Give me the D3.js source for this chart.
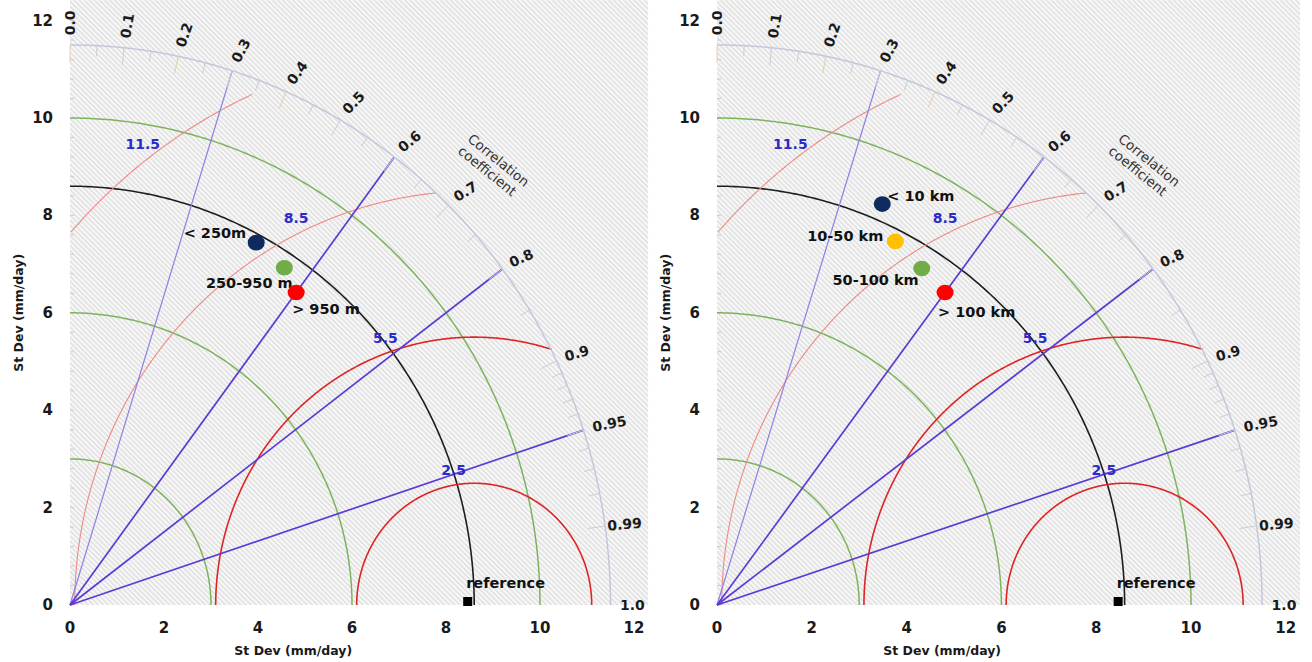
<!DOCTYPE html>
<html>
<head>
<meta charset="utf-8">
<script src="https://cdn.jsdelivr.net/npm/d3@7"></script>
<style>
  body { margin: 0; background: #fff; }
  svg { display: block; }
  text { font-family: "DejaVu Sans", sans-serif; }
</style>
</head>
<body>
<svg id="chart" width="1312" height="662"></svg>
<script>
// Taylor diagrams of daily precipitation: (a) by elevation class, (b) by distance class
const elevClasses = ["< 250m", "250-950 m", "> 950 m"];
const elevStd = [8.43, 8.29, 8.02];
const elevCorr = [0.47, 0.55, 0.60];
const elevColors = ["#0e2a5e", "#70ad47", "#ff0000"];

const distClasses = ["< 10 km", "10-50 km", "50-100 km", "> 100 km"];
const distStd = [8.94, 8.36, 8.15, 8.02];
const distCorr = [0.39, 0.45, 0.53, 0.60];
const distColors = ["#0e2a5e", "#ffc000", "#70ad47", "#ff0000"];

const refStd = 8.6;                 // observed standard deviation (mm/day)
const maxStd = 11.5;                // radius of the correlation axis
const stdTicks = [0, 2, 4, 6, 8, 10, 12];
const stdArcs = [3, 6, 10];         // constant standard deviation
const rmsArcs = [2.5, 5.5, 8.5, 11.5]; // centred RMS difference
const corrLines = [0.3, 0.6, 0.8, 0.95];
const corrTicks = [0.0, 0.1, 0.2, 0.3, 0.4, 0.5, 0.6, 0.7, 0.8, 0.9, 0.95, 0.99, 1.0];
const corrMinor = [0.05, 0.15, 0.25, 0.35, 0.45, 0.55, 0.65, 0.75, 0.85, 0.91, 0.92, 0.93, 0.94, 0.96, 0.97, 0.98];

// label placement for the class markers: [anchor, dx, dy] in px
const elevLabelPos = [["end", -10, -10], ["middle", -35, 15], ["start", -4, 16]];
const distLabelPos = [["start", 5, -8], ["end", -12, -5], ["end", -3, 12], ["start", -7, 19]];
// angle (deg, measured at the reference point) where each RMS value is written
const rmsLabelAngle = [99, 109, 115.5, 126.7];

const svg = d3.select("#chart");
const defs = svg.append("defs");
const pat = defs.append("pattern")
  .attr("id", "hatch").attr("patternUnits", "userSpaceOnUse")
  .attr("width", 3.6).attr("height", 3.6)
  .attr("patternTransform", "rotate(-45)");
pat.append("rect").attr("width", 3.6).attr("height", 3.6).attr("fill", "#f8f8f8");
pat.append("line").attr("x1", 1.8).attr("y1", 0).attr("x2", 1.8).attr("y2", 3.6)
  .attr("stroke", "#d6d6d6").attr("stroke-width", 1.1);

const Y0 = 605, PY = 48.7;

function polar(r, c) { return [r * c, r * Math.sqrt(Math.max(0, 1 - c * c))]; }

function drawPanel(ox, px, names, stds, corrs, colors, labelPos) {
  const x = d3.scaleLinear().domain([0, 12]).range([ox, ox + 12 * px]);
  const y = d3.scaleLinear().domain([0, 12]).range([Y0, Y0 - 12 * PY]);
  const line = d3.line().x(d => x(d[0])).y(d => y(d[1]));
  const g = svg.append("g");

  // hatched plotting area
  g.append("rect")
    .attr("x", x(0)).attr("y", y(12.42))
    .attr("width", x(12.3) - x(0)).attr("height", y(0) - y(12.42))
    .attr("fill", "url(#hatch)");

  // faint marks along the std axis
  g.selectAll(".ym").data(d3.range(0, 12.01, 0.4)).join("line")
    .attr("x1", x(0)).attr("x2", x(0) + 4)
    .attr("y1", d => y(d)).attr("y2", d => y(d))
    .attr("stroke", "#cccccc").attr("stroke-width", 1);

  // std dev arcs
  stdArcs.forEach(r => {
    const pts = d3.range(0, 90.01, 0.5).map(a => [r * Math.cos(a * Math.PI / 180), r * Math.sin(a * Math.PI / 180)]);
    g.append("path").attr("d", line(pts)).attr("fill", "none")
      .attr("stroke", "#7cb45c").attr("stroke-width", 1.5);
  });

  // reference std arc
  {
    const pts = d3.range(0, 90.01, 0.5).map(a => [refStd * Math.cos(a * Math.PI / 180), refStd * Math.sin(a * Math.PI / 180)]);
    g.append("path").attr("d", line(pts)).attr("fill", "none")
      .attr("stroke", "#1e1e1e").attr("stroke-width", 1.6);
  }

  // centred RMS arcs around the reference point
  rmsArcs.forEach((R, i) => {
    const limit = R >= maxStd ? maxStd - 0.3 : maxStd + 0.02;
    const pts = d3.range(0, 180.01, 0.25)
      .map(a => [refStd + R * Math.cos(a * Math.PI / 180), R * Math.sin(a * Math.PI / 180)])
      .filter(p => p[0] >= 0 && Math.hypot(p[0], p[1]) <= limit);
    const strong = R < 6;
    g.append("path").attr("d", line(pts)).attr("fill", "none")
      .attr("stroke", strong ? "#e02424" : "#ee8a86")
      .attr("stroke-width", strong ? 1.6 : 1.1);
  });

  // correlation rays
  corrLines.forEach(c => {
    const p = polar(maxStd, c);
    const light = c < 0.5;
    g.append("path").attr("d", line([[0, 0], p])).attr("fill", "none")
      .attr("stroke", light ? "#8f80e4" : "#5b3bd4")
      .attr("stroke-width", light ? 1.2 : 1.7);
  });

  // correlation axis
  {
    const pts = d3.range(0, 90.01, 0.25).map(a => [maxStd * Math.cos(a * Math.PI / 180), maxStd * Math.sin(a * Math.PI / 180)]);
    g.append("path").attr("d", line(pts)).attr("fill", "none")
      .attr("stroke", "#c4c7da").attr("stroke-width", 1.5);
  }
  const tickTan = [0.0, 0.2, 0.4];
  corrTicks.filter(c => c < 1).forEach(c => {
    const a = polar(maxStd, c), b = polar(maxStd - 0.36, c);
    g.append("path").attr("d", line([a, b]))
      .attr("stroke", tickTan.includes(c) ? "#e8cfa4" : "#cdcdd6").attr("stroke-width", 1);
  });
  corrMinor.forEach(c => {
    const a = polar(maxStd, c), b = polar(maxStd - 0.22, c);
    g.append("path").attr("d", line([a, b]))
      .attr("stroke", "#cdcdd6").attr("stroke-width", 1);
  });

  // correlation labels
  corrTicks.forEach(c => {
    const p = polar(c > 0.97 && c < 1 ? 11.55 : 11.7, c);
    const th = Math.acos(c) * 180 / Math.PI;
    const rot = -th * (0.6 + 0.4 * Math.pow(th / 90, 2));
    g.append("text")
      .attr("transform", `translate(${x(p[0])},${y(p[1])}) rotate(${rot})`)
      .attr("text-anchor", "start").attr("dominant-baseline", "central")
      .attr("font-size", 14).attr("font-weight", "bold").attr("fill", "#1a1a1a")
      .text(d3.format(c === 0.95 || c === 0.99 ? ".2f" : ".1f")(c));
  });

  // axis title for correlation
  {
    const p = polar(12.78, Math.SQRT1_2);
    const t = g.append("text")
      .attr("transform", `translate(${x(p[0])},${y(p[1])}) rotate(39)`)
      .attr("text-anchor", "middle").attr("font-size", 13.5).attr("fill", "#333");
    t.append("tspan").attr("x", 0).attr("dy", "-0.1em").text("Correlation");
    t.append("tspan").attr("x", -2).attr("dy", "1.15em").text("coefficient");
  }

  // RMS labels
  rmsArcs.forEach((R, i) => {
    const a = rmsLabelAngle[i] * Math.PI / 180;
    const r = R + 0.3;
    g.append("text")
      .attr("x", x(refStd + r * Math.cos(a))).attr("y", y(r * Math.sin(a)))
      .attr("text-anchor", "middle").attr("dominant-baseline", "central")
      .attr("font-size", 14).attr("font-weight", "bold").attr("fill", "#2b2bc6")
      .text(d3.format(".1f")(R));
  });

  // std axis tick labels
  g.selectAll(".yl").data(stdTicks).join("text")
    .attr("x", x(0) - 17).attr("y", d => y(d))
    .attr("text-anchor", "end").attr("dominant-baseline", "central")
    .attr("font-size", 15).attr("font-weight", "bold").attr("fill", "#1a1a1a")
    .text(d => d);
  g.selectAll(".xl").data(stdTicks).join("text")
    .attr("x", d => x(d)).attr("y", Y0 + 23)
    .attr("text-anchor", "middle").attr("dominant-baseline", "central")
    .attr("font-size", 15).attr("font-weight", "bold").attr("fill", "#1a1a1a")
    .text(d => d);

  // axis titles
  g.append("text")
    .attr("x", x(4.75)).attr("y", Y0 + 45)
    .attr("text-anchor", "middle").attr("dominant-baseline", "central")
    .attr("font-size", 12.5).attr("font-weight", "bold").attr("fill", "#1a1a1a")
    .text("St Dev (mm/day)");
  g.append("text")
    .attr("transform", `translate(${x(0) - 52},${y(6)}) rotate(-90)`)
    .attr("text-anchor", "middle").attr("dominant-baseline", "central")
    .attr("font-size", 12.5).attr("font-weight", "bold").attr("fill", "#1a1a1a")
    .text("St Dev (mm/day)");

  // reference point
  g.append("rect")
    .attr("x", x(refStd) - 11).attr("y", y(0) - 8)
    .attr("width", 9).attr("height", 9).attr("fill", "#000");
  g.append("text")
    .attr("x", x(refStd) - 8).attr("y", y(0) - 22)
    .attr("text-anchor", "start").attr("dominant-baseline", "central")
    .attr("font-size", 14.5).attr("font-weight", "bold").attr("fill", "#111")
    .text("reference");

  // class markers
  names.forEach((n, i) => {
    const p = polar(stds[i], corrs[i]);
    const cx = x(p[0]), cy = y(p[1]);
    g.append("ellipse").attr("cx", cx).attr("cy", cy).attr("rx", 8.5).attr("ry", 7.8).attr("fill", colors[i]);
    const lp = labelPos[i];
    g.append("text")
      .attr("x", cx + lp[1]).attr("y", cy + lp[2])
      .attr("text-anchor", lp[0]).attr("dominant-baseline", "central")
      .attr("font-size", 14.5).attr("font-weight", "bold").attr("fill", "#111")
      .text(n);
  });
}

drawPanel(70, 47.0, elevClasses, elevStd, elevCorr, elevColors, elevLabelPos);
drawPanel(717, 47.4, distClasses, distStd, distCorr, distColors, distLabelPos);
</script>
</body>
</html>
